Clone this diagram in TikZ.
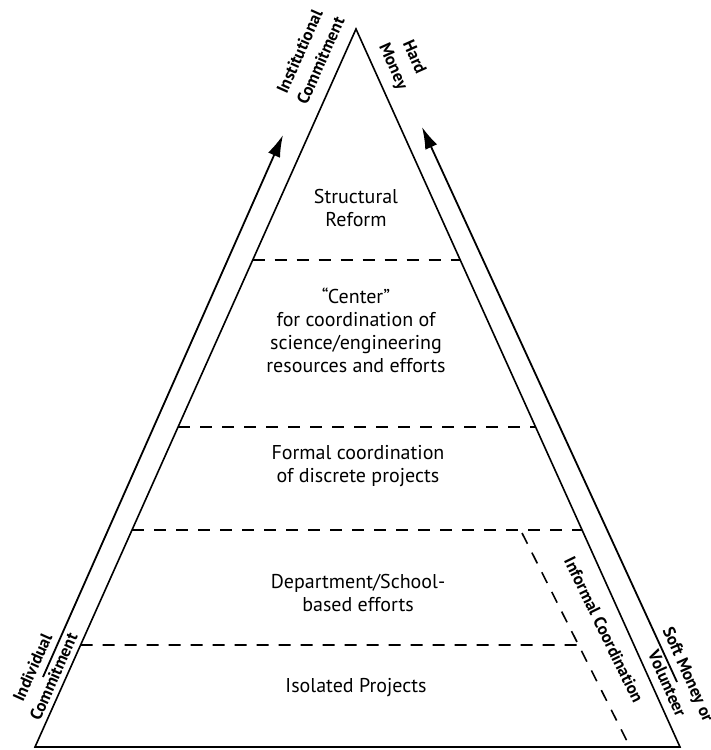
\documentclass[tikz,border=0pt]{standalone}
\usepackage{fontspec}
\setmainfont{PT Sans}
\usetikzlibrary{arrows.meta,calc}
\begin{document}
\begin{tikzpicture}[x=0.5pt,y=-0.5pt,
    level/.style={align=center,font=\fontsize{10}{11.5}\selectfont,inner sep=1pt},
    side/.style={align=center,font=\fontsize{8.5}{11.5}\selectfont\bfseries,inner sep=1pt},
    divider/.style={dash pattern=on 6pt off 5pt,line width=0.8pt},
    commit/.style={line width=0.9pt,-{Latex[length=11pt,width=6.5pt]}}]
    \useasboundingbox (0,0) rectangle (711,750);

    % pyramid
    \coordinate (apex) at (356,29);
    \coordinate (bl) at (35,747);
    \coordinate (br) at (680,747);
    \draw[line width=0.8pt] (bl) -- (apex) -- (br) -- cycle;

    % levels
    \foreach \y/\n in {260/a,427/b,530/c} {
        \coordinate (l\n) at ($(bl)!{(747-\y)/718}!(apex)$);
        \coordinate (r\n) at ($(br)!{(747-\y)/718}!(apex)$);
        \draw[divider] (l\n) -- (r\n);
    }
    \coordinate (inftop) at (522,533);
    \coordinate (infbot) at (630,747);
    \draw[divider] (inftop) -- (infbot);
    \coordinate (ld) at ($(bl)!{(747-645)/718}!(apex)$);
    \coordinate (rd) at ($(inftop)!{(645-533)/214}!(infbot)$);
    \draw[divider] (ld) -- (rd);

    \node[level] (reform) at (356,208) {Structural\\Reform};
    \node[level] (center) at (356,330) {``Center''\\for coordination of\\science/engineering\\resources and efforts};
    \node[level] (formal) at (358,466) {Formal coordination\\of discrete projects};
    \node[level] (dept) at (358,593) {Department/School-\\based efforts};
    \node[level] (isolated) at (356,688) {Isolated Projects};

    % commitment and money
    \coordinate (indivfoot) at (43,677);
    \coordinate (insthead) at (283,135);
    \coordinate (softfoot) at (677,682);
    \coordinate (hardhead) at (422,127);
    \draw[commit] (indivfoot) -- (insthead);
    \draw[commit] (softfoot) -- (hardhead);

    \node[side,rotate=66] (inst) at (310,56) {Institutional\\Commitment};
    \node[side,rotate=-66] (hard) at (403,62) {Hard\\Money};
    \node[side,rotate=66] (indiv) at (43,672) {Individual\\Commitment};
    \node[side,rotate=-66] (soft) at (678,679) {Soft Money or\\Volunteer};
    \node[side,rotate=-64] (informal) at (604,630) {Informal Coordination};
\end{tikzpicture}
\end{document}
